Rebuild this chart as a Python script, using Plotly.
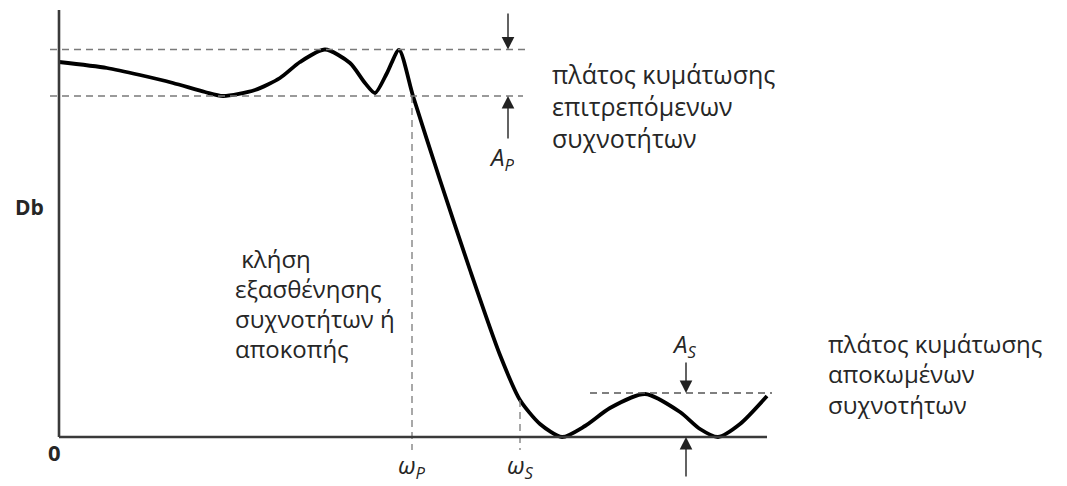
import plotly.graph_objects as go

# Filter magnitude response (frequency in arbitrary units, gain in dB units)
freq = [0.0, 4.8, 8.1, 11.4, 14.6, 16.4, 19.6, 22.1, 24.1, 26.6, 29.1, 30.6, 31.6, 32.8, 34.0,
        35.4, 38.1, 41.1, 44.1, 46.1, 48.1, 50.3, 52.6, 55.1, 58.6, 62.1, 64.1, 65.9, 68.1, 70.8]
gain = [37.5, 36.9, 36.2, 35.4, 34.5, 34.1, 34.7, 35.9, 37.5, 38.75, 37.4, 35.4, 34.4, 36.4, 38.7,
        34.1, 25.7, 16.7, 8.2, 3.7, 1.3, 0.0, 1.1, 2.9, 4.3, 2.5, 0.8, 0.0, 1.3, 4.1]

# Reference levels
pass_max = 38.75      # top of passband ripple
pass_min = 34.1       # bottom of passband ripple
stop_max = 4.4        # top of stopband ripple
w_p = 35.3            # passband edge
w_s = 46.1            # stopband edge
w_s_gain = 3.7        # response level at the stopband edge
x_end = 70.8          # end of frequency axis
y_top = 42.7          # top of gain axis

label_pass = ["πλάτος κυμάτωσης", "επιτρεπόμενων", "συχνοτήτων"]
label_cut = [" κλήση", "εξασθένησης", "συχνοτήτων ή", "αποκοπής"]
label_stop = ["πλάτος κυμάτωσης", "αποκωμένων", "συχνοτήτων"]

FONT = "Open Sans"
TXT = "#262626"
DASH_C = "#7a7a7a"
AX_C = "#3a3a3a"

fig = go.Figure()

fig.add_trace(go.Scatter(
    x=freq, y=gain, mode="lines",
    line=dict(color="black", width=3.8, shape="spline", smoothing=0.7),
    hoverinfo="skip", showlegend=False,
))

shapes = []
dash = "7px,5px"
# ripple bands
shapes.append(dict(type="line", x0=-0.9, x1=46.6, y0=pass_max, y1=pass_max,
                   line=dict(color=DASH_C, width=1.3, dash=dash)))
shapes.append(dict(type="line", x0=-0.9, x1=46.4, y0=pass_min, y1=pass_min,
                   line=dict(color=DASH_C, width=1.3, dash=dash)))
shapes.append(dict(type="line", x0=53.1, x1=71.3, y0=stop_max, y1=stop_max,
                   line=dict(color="#555555", width=1.3, dash=dash)))
# edge frequencies
shapes.append(dict(type="line", x0=w_p, x1=w_p, y0=pass_min, y1=-1.3,
                   line=dict(color=DASH_C, width=1.3, dash=dash)))
shapes.append(dict(type="line", x0=w_s, x1=w_s, y0=w_s_gain, y1=-1.3,
                   line=dict(color=DASH_C, width=1.3, dash=dash)))
# axes
shapes.append(dict(type="line", x0=0, x1=0, y0=0, y1=y_top,
                   line=dict(color=AX_C, width=2.6)))
shapes.append(dict(type="line", x0=0, x1=x_end, y0=0, y1=0,
                   line=dict(color=AX_C, width=2.6)))

annotations = []


def arrow(x, y_from, y_to):
    annotations.append(dict(x=x, y=y_to, ax=x, ay=y_from, xref="x", yref="y",
                            axref="x", ayref="y", text="", showarrow=True,
                            arrowhead=2, arrowsize=1.8, arrowwidth=1.4,
                            arrowcolor="#222222"))


arrow(44.9, 42.5, pass_max)
arrow(44.9, 29.7, pass_min)
arrow(62.7, 7.6, stop_max)
arrow(62.7, -4.1, 0)


def label(x, y, text, size=25, anchor="left", bold=False, italic=False, box_h=None):
    ann = dict(x=x, y=y, xref="x", yref="y", text=text, showarrow=False,
               xanchor=anchor, yanchor="middle", borderpad=0,
               font=dict(family=FONT, size=size, color=TXT,
                         weight="bold" if bold else "normal",
                         style="italic" if italic else "normal"))
    if box_h is not None:
        ann["height"] = box_h
    annotations.append(ann)


label(-3.0, 23.0, "Db", size=21, anchor="center", bold=True)
label(-0.5, -1.5, "0", size=22, anchor="center", bold=True)
label(w_p, -2.9, "ω<sub>P</sub>", size=24, anchor="center", italic=True, box_h=30)
label(w_s, -2.9, "ω<sub>S</sub>", size=24, anchor="center", italic=True, box_h=30)
label(44.2, 27.9, "A<sub>P</sub>", size=24, anchor="center", italic=True, box_h=30)
label(62.5, 9.2, "A<sub>S</sub>", size=24, anchor="center", italic=True, box_h=28)

for i, t in enumerate(label_pass):
    label(49.2, 36.4 - 3.2 * i, t, box_h=31)
for i, t in enumerate(label_cut):
    label(17.5, 17.9 - 3.0 * i, t, size=24, box_h=29)
for i, t in enumerate(label_stop):
    label(76.8, 9.4 - 3.05 * i, t, size=24, box_h=29)

fig.update_layout(
    width=1067, height=486,
    margin=dict(l=0, r=0, t=0, b=0),
    paper_bgcolor="white", plot_bgcolor="white",
    xaxis=dict(range=[-5.9, 100.8], visible=False, fixedrange=True),
    yaxis=dict(range=[-4.9, 43.7], visible=False, fixedrange=True),
    shapes=shapes, annotations=annotations,
)

fig.write_html("out.html")
